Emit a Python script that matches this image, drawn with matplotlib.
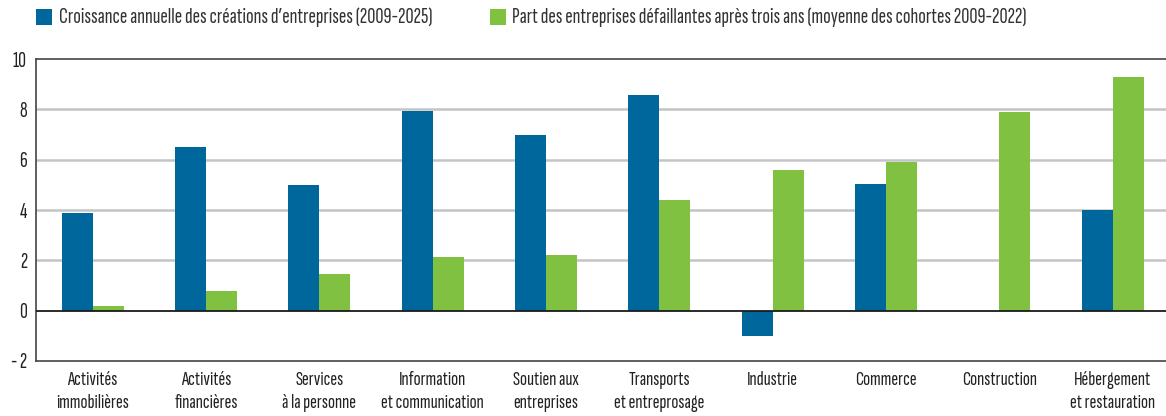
import matplotlib
matplotlib.use("Agg")
import matplotlib.pyplot as plt
from matplotlib.patches import Rectangle
from matplotlib.textpath import TextPath
from matplotlib.font_manager import FontProperties
import numpy as np

categories = ["Activités\nimmobilières", "Activités\nfinancières", "Services\nà la personne",
              "Information\net communication", "Soutien aux\nentreprises", "Transports\net entreprosage",
              "Industrie", "Commerce", "Construction", "Hébergement\net restauration"]
croissance = [3.89, 6.51, 5.00, 7.94, 6.98, 8.57, -1.02, 5.04, np.nan, 4.01]
defaillance = [0.17, 0.79, 1.47, 2.14, 2.22, 4.40, 5.60, 5.91, 7.90, 9.29]
series_names = ["Croissance annuelle des créations d\u2019entreprises (2009-2025)",
                "Part des entreprises défaillantes après trois ans (moyenne des cohortes 2009-2022)"]
yticks = [-2, 0, 2, 4, 6, 8, 10]
ytick_labels = ["- 2", "0", "2", "4", "6", "8", "10"]

BLUE = "#00679c"
GREEN = "#80c141"
FONT = ['Sofia Sans Extra Condensed', 'DejaVu Sans']
plt.rcParams['font.family'] = FONT

W, H = 1166, 416
DPI = 100
fig = plt.figure(figsize=(W / DPI, H / DPI), dpi=DPI)


def measure(s, size=14):
    t = fig.text(0, 0, s, fontsize=size)
    fig.canvas.draw()
    bb = t.get_window_extent()
    t.remove()
    return bb.width, bb.height


# font sizes fitted to the reference text extents (pixels)
FS_LEG = 14 * 374 / measure(series_names[0])[0]
FS_X = 14 * 103 / measure("et communication")[0]
digit_h = TextPath((0, 0), "0", size=100, prop=FontProperties(family=FONT[0])).get_extents().height
FS_Y = 14.5 * 72 / DPI / (digit_h / 100)
lp_h = measure("lp", FS_X)[1]
LS_X = 25 / lp_h

ax = fig.add_axes([36 / W, (H - 361) / H, 1130 / W, 302 / H])

x = np.arange(len(categories))
bw = 0.273
ax.bar(x - bw / 2, croissance, width=bw, color=BLUE, zorder=3)
ax.bar(x + bw / 2, defaillance, width=bw, color=GREEN, zorder=3)

ax.set_xlim(-0.5, 9.47)
ax.set_ylim(-2, 10)
ax.set_yticks(yticks)
ax.set_yticklabels(ytick_labels)
ax.set_xticks(x)
ax.set_xticklabels(categories, linespacing=LS_X)
ax.tick_params(axis='x', length=0, labelsize=FS_X, colors="#222222", pad=7)
ax.tick_params(axis='y', length=0, labelsize=FS_Y, colors="#222222", pad=6.5)

for yv in [2, 4, 6, 8]:
    ax.axhline(yv, color="#c4c4c4", lw=1.8, zorder=1)
ax.axhline(0, color="#1a1a1a", lw=1.3, zorder=4)

for s in ["left", "bottom", "top"]:
    ax.spines[s].set_color("#444444")
    ax.spines[s].set_linewidth(1.2)
ax.spines["right"].set_visible(False)

# legend (manual placement in pixel coordinates)
for (sx, tx), color, name in zip([(36, 59), (490, 512)], [BLUE, GREEN], series_names):
    fig.patches.append(Rectangle((sx / W, 1 - 25 / H), 16 / W, 16 / H,
                                 transform=fig.transFigure, facecolor=color, edgecolor="none"))
    fig.text(tx / W, 1 - 17 / H, name, fontsize=FS_LEG, color="#333333", va="center", ha="left")

fig.savefig("out.png", dpi=DPI)
